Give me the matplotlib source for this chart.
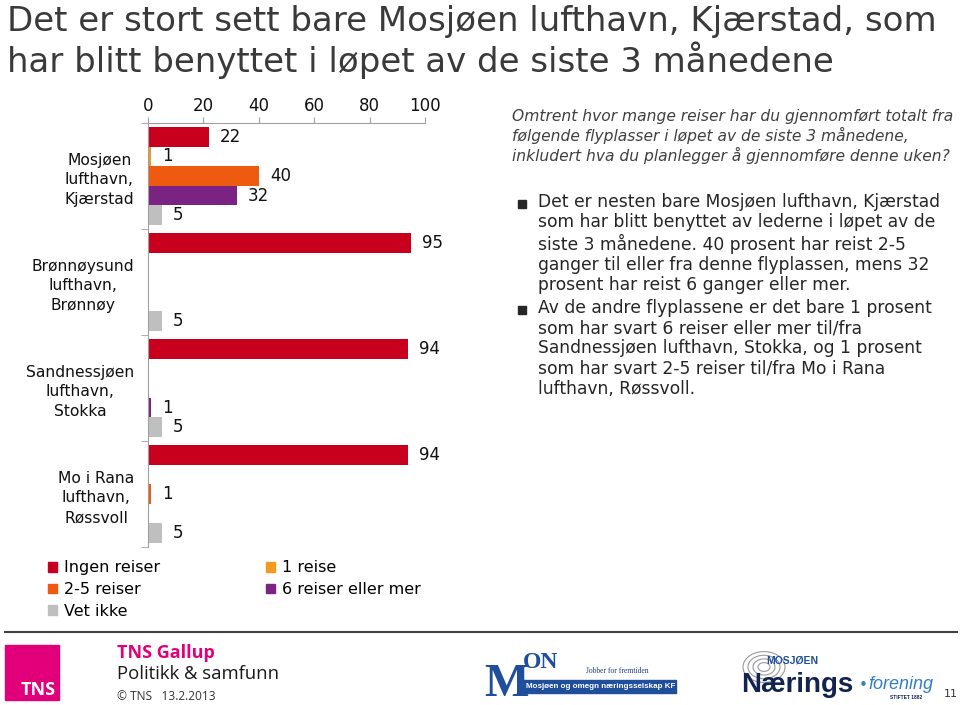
import numpy as np
import matplotlib
matplotlib.use("Agg")
import matplotlib.pyplot as plt
from matplotlib.patches import Patch, Rectangle, Circle

plt.rcParams['font.family'] = ['DejaVu Sans']

# data
categories = ["Mosjøen\nlufthavn,\nKjærstad",
              "Brønnøysund\nlufthavn,\nBrønnøy",
              "Sandnessjøen\nlufthavn,\nStokka",
              "Mo i Rana\nlufthavn,\nRøssvoll"]
series = ["Ingen reiser", "1 reise", "2-5 reiser", "6 reiser eller mer", "Vet ikke"]
ingen = [22, 95, 94, 94]
en_reise = [1, 0, 0, 0]
to_fem = [40, 0, 0, 1]
seks_pluss = [32, 0, 1, 0]
vet_ikke = [5, 5, 5, 5]
colors = ["#C8001E", "#F39A21", "#EE5A0F", "#7B2382", "#BFBFBF"]
values = [ingen, en_reise, to_fem, seks_pluss, vet_ikke]

W, H = 960, 705
fig = plt.figure(figsize=(9.6, 7.05), dpi=100)

def fx(x):
    return x / W

def fy(y):
    return 1 - y / H

ax = fig.add_axes([fx(148), fy(547), fx(425) - fx(148), fy(123) - fy(547)])

h = 0.185
yc = np.arange(len(categories))
handles = []
for k, (vals, col) in enumerate(zip(values, colors)):
    pos = yc + (k - 2) * h
    ax.barh(pos, vals, height=h, color=col, label=series[k])
    handles.append(Patch(color=col, label=series[k]))
    for p, v in zip(pos, vals):
        if v > 0:
            ax.annotate(str(v), (v, p), xytext=(8, 0), textcoords="offset points",
                        va="center", ha="left", fontsize=12, color="#111111")

ax.set_xlim(0, 100)
ax.set_ylim(3.5, -0.5)
ax.xaxis.tick_top()
ax.set_xticks(range(0, 101, 20))
ax.tick_params(axis="x", labelsize=12, length=4, color="#A0A0A0", pad=2, labelcolor="#111111")
ax.set_yticks(yc)
ax.set_yticklabels(categories, fontsize=11.2, multialignment="center", color="#111111")
for lab in ax.get_yticklabels():
    lab.set_linespacing(1.4)
ax.set_yticks(np.arange(-0.5, 3.6, 1), minor=True)
ax.tick_params(axis="y", which="major", length=0, pad=10)
ax.tick_params(axis="y", which="minor", length=5, color="#A0A0A0")
for s in ["bottom", "right"]:
    ax.spines[s].set_visible(False)
for s in ["top", "left"]:
    ax.spines[s].set_color("#A0A0A0")

# legend (column-major order like the original)
fig.legend(handles=handles[:1] + handles[2:3] + handles[4:] + handles[1:2] + handles[3:4],
           loc="upper left", bbox_to_anchor=(fx(42), fy(554)), ncol=2, frameon=False,
           fontsize=11.5, handlelength=0.55, handleheight=0.55, handletextpad=0.45,
           columnspacing=6.6, labelspacing=0.42, borderaxespad=0)

# title
fig.text(fx(7), fy(5), "Det er stort sett bare Mosjøen lufthavn, Kjærstad, som\n"
         "har blitt benyttet i løpet av de siste 3 månedene",
         fontsize=24.5, color="#3a3a3a", va="top", ha="left", linespacing=1.12)

# question
fig.text(fx(512), fy(109), "Omtrent hvor mange reiser har du gjennomført totalt fra\n"
         "følgende flyplasser i løpet av de siste 3 månedene,\n"
         "inkludert hva du planlegger å gjennomføre denne uken?",
         fontsize=11.2, style="italic", color="#404040", va="top", ha="left",
         linespacing=1.22)

bullets = [
    "Det er nesten bare Mosjøen lufthavn, Kjærstad\n"
    "som har blitt benyttet av lederne i løpet av de\n"
    "siste 3 månedene. 40 prosent har reist 2-5\n"
    "ganger til eller fra denne flyplassen, mens 32\n"
    "prosent har reist 6 ganger eller mer.",
    "Av de andre flyplassene er det bare 1 prosent\n"
    "som har svart 6 reiser eller mer til/fra\n"
    "Sandnessjøen lufthavn, Stokka, og 1 prosent\n"
    "som har svart 2-5 reiser til/fra Mo i Rana\n"
    "lufthavn, Røssvoll.",
]
for ytop, txt in zip([193, 299], bullets):
    fig.text(fx(538), fy(ytop), txt, fontsize=12.3, color="#262626",
             va="top", ha="left", linespacing=1.16)
    fig.patches.append(Rectangle((fx(518), fy(ytop + 15)), fx(8), 8 / H,
                                 transform=fig.transFigure, color="#262626"))

# footer
fig.add_artist(plt.Line2D([fx(5), fx(957)], [fy(632), fy(632)], color="#404040",
                          lw=1.5, transform=fig.transFigure))
fig.patches.append(Rectangle((fx(5), fy(700)), fx(54), 55 / H,
                             transform=fig.transFigure, color="#E2007A"))
fig.text(fx(38), fy(690), "TNS", color="white", fontsize=13, fontweight="bold",
         ha="center", va="center", family="Open Sans")
fig.text(fx(117), fy(653), "TNS Gallup", color="#E2007A", fontsize=13,
         fontweight="bold", ha="left", va="center", family="Open Sans")
fig.text(fx(117), fy(674), "Politikk & samfunn", color="#1a1a1a", fontsize=13.3,
         ha="left", va="center", family="Open Sans")
fig.text(fx(117), fy(697), "© TNS   13.2.2013", color="#333333", fontsize=8.6,
         ha="left", va="center", family="Open Sans")

# MON logo
fig.text(fx(484), fy(696), "M", color="#1F4E9C", fontsize=34, fontweight="bold",
         family="Liberation Serif", ha="left", va="baseline")
fig.text(fx(523), fy(668), "ON", color="#1F4E9C", fontsize=17, fontweight="bold",
         family="Liberation Serif", ha="left", va="baseline")
fig.text(fx(586), fy(673), "Jobber for fremtiden", color="#1F3E7C", fontsize=5.5,
         family="Liberation Serif", ha="left", va="baseline")
fig.patches.append(Rectangle((fx(523), fy(693)), fx(153), 13 / H,
                             transform=fig.transFigure, color="#1F4E9C"))
fig.text(fx(526), fy(686.5), "Mosjøen og omegn næringsselskap KF", color="white",
         fontsize=5.8, fontweight="bold", ha="left", va="center", family="Liberation Sans")

# Næringsforening logo
for r in [6, 11, 16, 21]:
    fig.add_artist(Circle((fx(764), fy(667)), r / W, transform=fig.transFigure,
                          fill=False, ec="#9a9a9a", lw=0.8))
fig.text(fx(766), fy(661), "MOSJØEN", color="#1F4E9C", fontsize=7.5, fontweight="bold",
         ha="left", va="center", family="Liberation Sans")
fig.text(fx(741), fy(692), "Nærings", color="#13234F", fontsize=20, fontweight="bold",
         ha="left", va="baseline", family="Liberation Sans")
fig.text(fx(863), fy(685), "•", color="#2F7FC8", fontsize=11, ha="center",
         va="center", family="DejaVu Sans")
fig.text(fx(868), fy(689), "forening", color="#2F7FC8", fontsize=13, style="italic",
         ha="left", va="baseline", family="Liberation Sans")
fig.text(fx(890), fy(699), "STIFTET 1882", color="#13234F", fontsize=3.5,
         fontweight="bold", ha="left", va="baseline", family="Liberation Sans")
fig.text(fx(951), fy(694), "11", color="#333333", fontsize=8, ha="center", va="center")

fig.savefig("out.png", dpi=100)
